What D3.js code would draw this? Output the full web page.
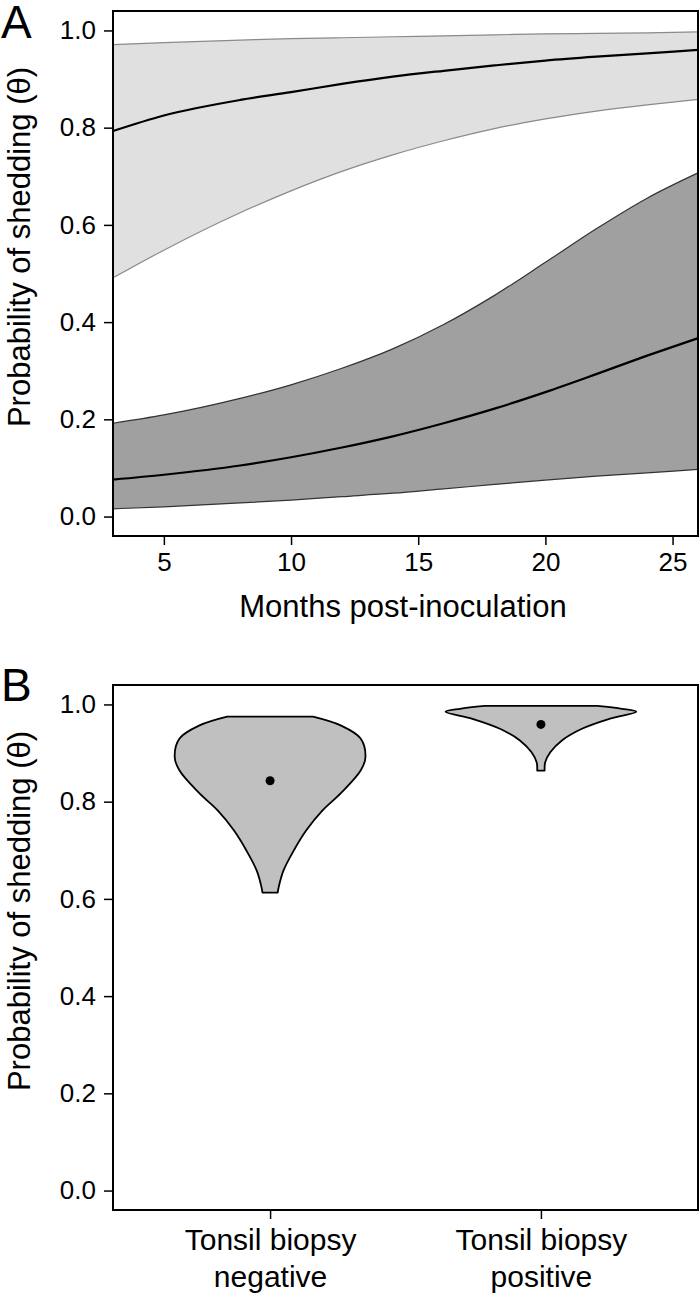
<!DOCTYPE html>
<html>
<head>
<meta charset="utf-8">
<script src="https://cdn.jsdelivr.net/npm/d3@7"></script>
<style>
  body { margin: 0; background: #fff; }
  text { font-family: "Liberation Sans", Arial, sans-serif; fill: #000; }
</style>
</head>
<body>
<div id="chart"></div>
<script>
// ---- panel A data ----
const months = [3, 5, 8, 10, 12, 14, 16, 18, 20, 22, 24, 26];
const lightUpper = [0.971, 0.975, 0.980, 0.983, 0.985, 0.987, 0.989, 0.991, 0.993, 0.994, 0.995, 0.997];
const lightMid   = [0.793, 0.825, 0.857, 0.873, 0.890, 0.905, 0.917, 0.928, 0.938, 0.946, 0.953, 0.960];
const lightLower = [0.491, 0.548, 0.625, 0.670, 0.710, 0.744, 0.773, 0.798, 0.818, 0.834, 0.847, 0.858];
const darkUpper  = [0.192, 0.209, 0.243, 0.271, 0.305, 0.345, 0.395, 0.455, 0.523, 0.592, 0.655, 0.707];
const darkMid    = [0.076, 0.086, 0.105, 0.122, 0.142, 0.165, 0.192, 0.222, 0.256, 0.293, 0.331, 0.367];
const darkLower  = [0.016, 0.020, 0.028, 0.034, 0.041, 0.048, 0.057, 0.066, 0.075, 0.083, 0.090, 0.097];
const monthTicks = [5, 10, 15, 20, 25];
const probTicks = [0, 0.2, 0.4, 0.6, 0.8, 1.0];

// ---- panel B data (violins) ----
const categories = [["Tonsil biopsy", "negative"], ["Tonsil biopsy", "positive"]];
const negValues  = [0.975, 0.957, 0.930, 0.891, 0.864, 0.817, 0.782, 0.741, 0.700, 0.658, 0.624, 0.613];
const negDensity = [0.45, 0.74, 0.95, 1.00, 0.95, 0.74, 0.55, 0.38, 0.25, 0.14, 0.09, 0.08];
const posValues  = [0.997, 0.991, 0.985, 0.970, 0.950, 0.926, 0.902, 0.881, 0.864];
const posDensity = [0.59, 0.85, 1.00, 0.71, 0.43, 0.22, 0.10, 0.045, 0.039];
const medians = [0.843, 0.959];

const W = 700, H = 1297;
const svg = d3.select("#chart").append("svg")
  .attr("width", W)
  .attr("height", H);

function styleAxis(g, size) {
  g.attr("font-family", null).attr("font-size", null);
  g.select(".domain").remove();
  g.selectAll(".tick line").attr("stroke", "#000").attr("stroke-width", 1.5);
  g.selectAll(".tick text").style("font-size", size + "px").attr("fill", "#000");
}

// =========== Panel A ===========
const xA = d3.scaleLinear().domain([3, 26]).range([113, 698]);
const yA = d3.scaleLinear().domain([-0.04, 1.04]).range([536, 11]);

const rowsA = months.map((m, i) => ({
  m: m,
  lu: lightUpper[i], lm: lightMid[i], ll: lightLower[i],
  du: darkUpper[i], dm: darkMid[i], dl: darkLower[i]
}));

const bandA = (lo, hi) => d3.area()
  .curve(d3.curveMonotoneX)
  .x(d => xA(d.m))
  .y0(d => yA(d[lo]))
  .y1(d => yA(d[hi]));
const lineA = key => d3.line()
  .curve(d3.curveMonotoneX)
  .x(d => xA(d.m))
  .y(d => yA(d[key]));

svg.append("path").datum(rowsA).attr("d", bandA("ll", "lu")).attr("fill", "#e0e0e0");
svg.append("path").datum(rowsA).attr("d", bandA("dl", "du")).attr("fill", "#a0a0a0");

["lu", "ll"].forEach(k => {
  svg.append("path").datum(rowsA).attr("d", lineA(k))
    .attr("fill", "none").attr("stroke", "#8a8a8a").attr("stroke-width", 1.2);
});
["du", "dl"].forEach(k => {
  svg.append("path").datum(rowsA).attr("d", lineA(k))
    .attr("fill", "none").attr("stroke", "#333").attr("stroke-width", 1.2);
});
["lm", "dm"].forEach(k => {
  svg.append("path").datum(rowsA).attr("d", lineA(k))
    .attr("fill", "none").attr("stroke", "#000").attr("stroke-width", 2.2);
});

// box
svg.append("rect")
  .attr("x", 113).attr("y", 11)
  .attr("width", 698 - 113).attr("height", 536 - 11)
  .attr("fill", "none").attr("stroke", "#000").attr("stroke-width", 2);

svg.append("g")
  .attr("transform", "translate(113,0)")
  .call(d3.axisLeft(yA).tickValues(probTicks).tickSize(9).tickPadding(8).tickFormat(d3.format(".1f")))
  .call(g => styleAxis(g, 26));

svg.append("g")
  .attr("transform", "translate(0,536)")
  .call(d3.axisBottom(xA).tickValues(monthTicks).tickSize(9).tickPadding(8))
  .call(g => styleAxis(g, 26));

svg.append("text")
  .attr("x", 403).attr("y", 617)
  .attr("text-anchor", "middle")
  .style("font-size", "31px")
  .text("Months post-inoculation");

svg.append("text")
  .attr("transform", "translate(30,247) rotate(-90)")
  .attr("text-anchor", "middle")
  .style("font-size", "31px")
  .text("Probability of shedding (\u03B8)");

svg.append("text")
  .attr("x", 1).attr("y", 38)
  .style("font-size", "46px")
  .text("A");

// =========== Panel B ===========
const xB = d3.scaleLinear().domain([0.42, 2.58]).range([113, 698]);
const yB = d3.scaleLinear().domain([-0.04, 1.04]).range([1210, 685]);
const wB = d3.scaleLinear().domain([0, 1]).range([0, xB(1.352) - xB(1)]);

const violins = [
  negValues.map((v, i) => ({ v: v, d: negDensity[i] })),
  posValues.map((v, i) => ({ v: v, d: posDensity[i] }))
];

violins.forEach((pts, i) => {
  const cx = xB(i + 1);
  const area = d3.area()
    .curve(d3.curveCatmullRom.alpha(0.5))
    .y(d => yB(d.v))
    .x0(d => cx - wB(d.d))
    .x1(d => cx + wB(d.d));
  svg.append("path").datum(pts)
    .attr("d", area)
    .attr("fill", "#c0c0c0")
    .attr("stroke", "#000")
    .attr("stroke-width", 1.8)
    .attr("stroke-linejoin", "round");
  svg.append("circle")
    .attr("cx", cx).attr("cy", yB(medians[i]))
    .attr("r", 4.5)
    .attr("fill", "#000");
});

svg.append("rect")
  .attr("x", 113).attr("y", 685)
  .attr("width", 698 - 113).attr("height", 1210 - 685)
  .attr("fill", "none").attr("stroke", "#000").attr("stroke-width", 2);

svg.append("g")
  .attr("transform", "translate(113,0)")
  .call(d3.axisLeft(yB).tickValues(probTicks).tickSize(9).tickPadding(8).tickFormat(d3.format(".1f")))
  .call(g => styleAxis(g, 26));

const xAxisB = svg.append("g")
  .attr("transform", "translate(0,1210)")
  .call(d3.axisBottom(xB).tickValues([1, 2]).tickSize(9).tickFormat(""))
  .call(g => styleAxis(g, 30));

xAxisB.selectAll(".tick text").remove();
xAxisB.selectAll(".tick").each(function (d) {
  const lbl = categories[d - 1];
  const t = d3.select(this).append("text")
    .attr("text-anchor", "middle")
    .style("font-size", "30px");
  t.append("tspan").attr("x", 0).attr("y", 40).text(lbl[0]);
  t.append("tspan").attr("x", 0).attr("y", 77).text(lbl[1]);
});

svg.append("text")
  .attr("transform", "translate(30,911) rotate(-90)")
  .attr("text-anchor", "middle")
  .style("font-size", "31px")
  .text("Probability of shedding (\u03B8)");

svg.append("text")
  .attr("x", 1).attr("y", 701)
  .style("font-size", "46px")
  .text("B");
</script>
</body>
</html>
